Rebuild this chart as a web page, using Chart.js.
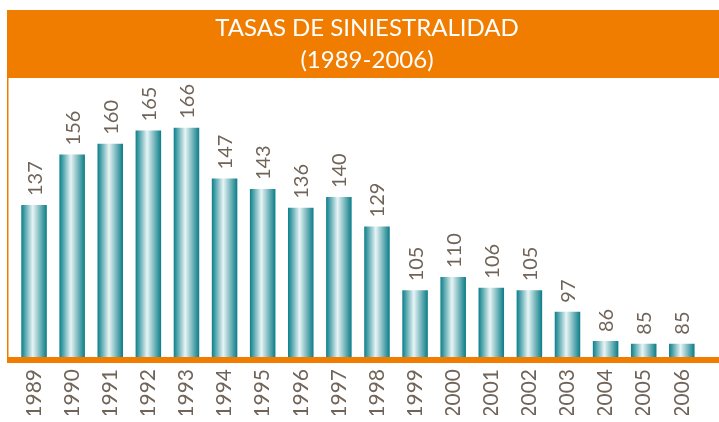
<!DOCTYPE html>
<html>
<head>
<meta charset="utf-8">
<script src="https://cdn.jsdelivr.net/npm/chart.js@4"></script>
<style>
  body { margin: 0; background: #fff; }
  canvas { display: block; }
</style>
</head>
<body>
<canvas id="myChart" width="719" height="422"></canvas>
<script>
// DATOS
const anios = ['1989', '1990', '1991', '1992', '1993', '1994', '1995', '1996', '1997',
               '1998', '1999', '2000', '2001', '2002', '2003', '2004', '2005', '2006']
const tasas = [137, 156, 160, 165, 166, 147, 143, 136, 140,
               129, 105, 110, 106, 105, 97, 86, 85, 85]
const titulo = ['TASAS DE SINIESTRALIDAD', '(1989-2006)']

const naranja = '#f07d00'
const gris = '#706459'

// degradado horizontal de cada barra (efecto cilindro)
function degradado(c) {
  const chart = c.chart
  const area = chart.chartArea
  if (!area) return '#1a8a94'
  const x = chart.scales.x.getPixelForValue(c.dataIndex)
  const w = (area.right - area.left) / anios.length * 0.67
  const g = chart.ctx.createLinearGradient(x - w / 2, 0, x + w / 2, 0)
  g.addColorStop(0, '#0a7f8a')
  g.addColorStop(0.45, '#e8f4f5')
  g.addColorStop(1, '#0a7c87')
  return g
}

// marco naranja + valores encima de las barras
const marco = {
  id: 'marco',
  beforeDraw(chart) {
    const ctx = chart.ctx
    const area = chart.chartArea
    ctx.save()
    ctx.fillStyle = naranja
    ctx.fillRect(7, 10, chart.width - 7, 68)
    ctx.fillRect(7, 10, 1.5, area.bottom - 10)
    ctx.restore()
  },
  afterDatasetsDraw(chart) {
    const ctx = chart.ctx
    const area = chart.chartArea
    ctx.save()
    ctx.fillStyle = naranja
    ctx.fillRect(7, area.bottom, chart.width - 7, 6)

    ctx.fillStyle = gris
    ctx.font = '400 20px Lato'
    ctx.textAlign = 'left'
    ctx.textBaseline = 'middle'
    chart.getDatasetMeta(0).data.forEach((bar, i) => {
      ctx.save()
      ctx.translate(bar.x, bar.y - 9)
      ctx.rotate(-Math.PI / 2)
      ctx.fillText(tasas[i], 0, 1)
      ctx.restore()
    })
    ctx.restore()
  }
}

const ctx = document.getElementById('myChart').getContext('2d')

const chart = new Chart(ctx, {
  type: 'bar',
  data: {
    labels: anios,
    datasets: [{
      data: tasas,
      backgroundColor: degradado,
      borderWidth: 0,
      barPercentage: 0.67,
      categoryPercentage: 1
    }]
  },
  options: {
    responsive: false,
    animation: false,
    layout: { padding: { left: 15, right: 0, top: 0, bottom: 7 } },
    plugins: {
      legend: { display: false },
      tooltip: { enabled: false },
      title: {
        display: true,
        text: titulo,
        color: '#ffffff',
        font: { family: 'Lato', weight: '400', size: 24, lineHeight: 1.35 },
        padding: { top: 12, bottom: 3 }
      }
    },
    scales: {
      x: {
        grid: { display: false, drawTicks: false },
        border: { display: false },
        afterFit: (scale) => { scale.height = 58 },
        ticks: {
          color: gris,
          font: { family: 'Lato', weight: '400', size: 21 },
          minRotation: 90,
          maxRotation: 90,
          padding: 12
        }
      },
      y: {
        display: false,
        min: 80,
        max: 184
      }
    }
  },
  plugins: [marco]
})
</script>
</body>
</html>
